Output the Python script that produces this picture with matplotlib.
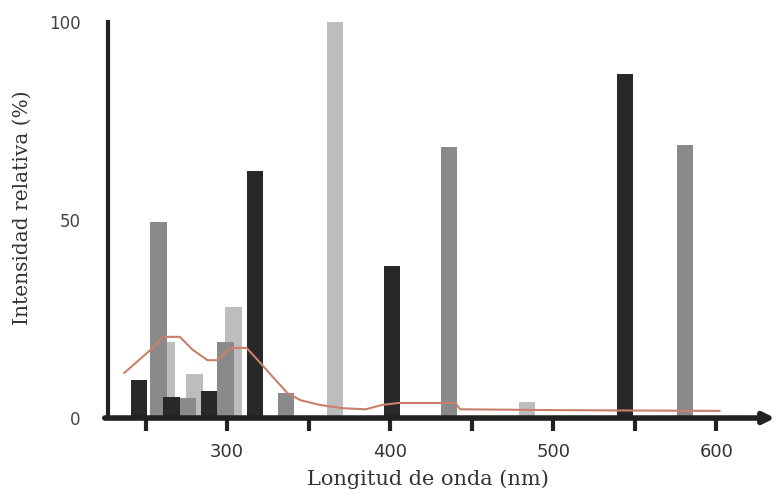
import numpy as np
import matplotlib.pyplot as plt

# Longitudes de onda (nm) y alturas de las barras, por tono de gris
oscuro_nm = [246, 266, 289, 317, 401, 544]
oscuro_val = [9.5, 5.2, 6.8, 62.3, 38.4, 87]
medio_nm = [258, 276, 299, 336, 436, 581]
medio_val = [49.5, 5.0, 19.3, 6.3, 68.4, 69]
claro_nm = [263, 280, 304, 366, 484]
claro_val = [19.2, 11, 28, 100, 4]

# Curva de emision continua (linea rojiza)
curva_nm = [237, 253, 261, 271, 279, 288, 294, 302, 312, 320, 328, 337, 345,
            357, 370, 385, 395, 405, 440, 443, 500, 602]
curva_val = [11.4, 17.2, 20.5, 20.5, 17.2, 14.6, 14.6, 17.7, 17.7, 14.1, 10.4,
             6.3, 4.5, 3.3, 2.5, 2.2, 3.3, 3.8, 3.8, 2.2, 2.0, 1.8]

ancho = 10

fig = plt.figure(figsize=(7.8, 5.04), dpi=100)
ax = fig.add_axes([0.1385, 0.1706, 0.855, 0.7857])

ax.bar(claro_nm, claro_val, width=ancho, color='#bdbdbd', zorder=2)
ax.bar(medio_nm, medio_val, width=ancho, color='#8a8a8a', zorder=3)
ax.bar(oscuro_nm, oscuro_val, width=ancho, color='#282828', zorder=4)
ax.plot(curva_nm, curva_val, color='#c8806a', lw=1.5, zorder=5)

ax.set_xlim(227, 636)
ax.set_ylim(0, 100)

for s in ['top', 'right']:
    ax.spines[s].set_visible(False)
ax.spines['left'].set_linewidth(3)
ax.spines['left'].set_color('#222222')
ax.spines['bottom'].set_visible(False)

# eje x con flecha
ax.annotate('', xy=(636, 0), xytext=(225, 0), xycoords='data',
            arrowprops=dict(arrowstyle='-|>', color='#222222', lw=4,
                            mutation_scale=16, shrinkA=0, shrinkB=0),
            annotation_clip=False, zorder=6)

ax.set_xticks([250, 300, 350, 400, 450, 500, 550, 600])
ax.set_xticklabels(['', '300', '', '400', '', '500', '', '600'])
ax.tick_params(axis='x', length=9, width=3, color='#222222', pad=9,
               labelsize=13, labelcolor='#333333')
ax.set_yticks([0, 50, 100])
ax.tick_params(axis='y', length=0, pad=20, labelsize=12, labelcolor='#444444')

fig.text(0.549, 0.05, 'Longitud de onda (nm)', ha='center', va='center',
         fontsize=15, family='DejaVu Serif', color='#333333')
fig.text(0.028, 0.588, 'Intensidad relativa (%)', ha='center', va='center',
         rotation=90, fontsize=14.5, family='DejaVu Serif', color='#333333')

fig.savefig('out.png', dpi=100)
